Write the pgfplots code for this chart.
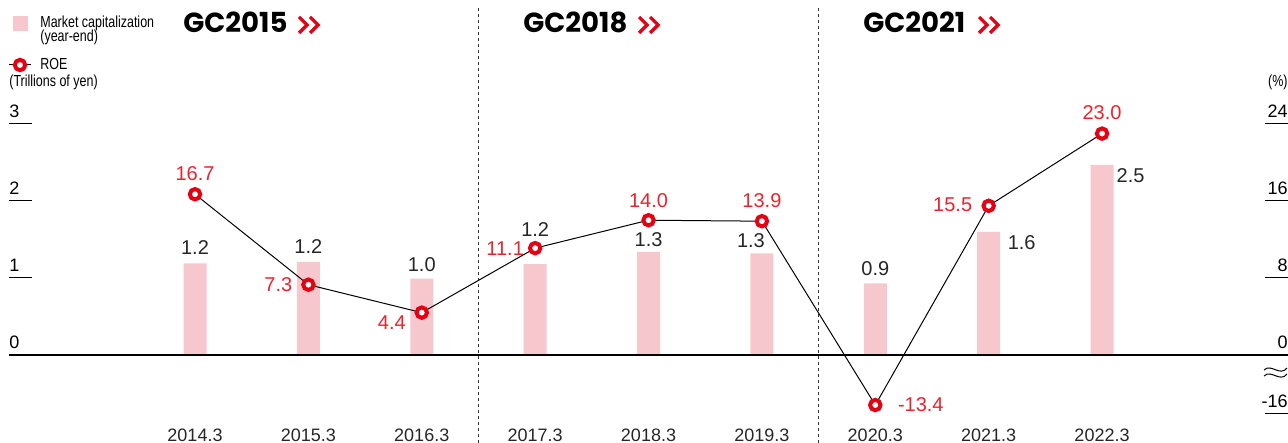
\documentclass[border=0pt]{standalone}
\usepackage{fontspec}
\setmainfont{Liberation Sans}
\newfontfamily\narrow{Liberation Sans}[FakeStretch=0.78]
\newfontfamily\gcfont{Poppins}
\usepackage{pgfplots}
\pgfplotsset{compat=1.18}
\usepackage{pgfplotstable}

\definecolor{capPink}{RGB}{246,199,204}
\definecolor{roeRed}{RGB}{230,0,18}
\definecolor{lblRed}{RGB}{232,36,48}

% x: fiscal year index, cap: market cap (trillions of yen), roe: ROE (%)
% roey: drawn position of ROE (the -13.4 point sits below a broken axis)
% cdx/cdy, rdx/rdy: label offsets in pt
\pgfplotstableread{
x cap  caplbl cdx   cdy  roe   roey  roelbl rdx   rdy
0 1.19 1.2    0     4.5  16.7  16.7  16.7   0     7
1 1.21 1.2    0     4    7.3   7.3   7.3    -15   -3.5
2 0.99 1.0    0     3.5  4.4   4.4   4.4    -15   -8.5
3 1.18 1.2    0     14   11.1  11.1  11.1   -15   -3.5
4 1.34 1.3    0     2.5  14.0  14.0  14.0   0     6.5
5 1.32 1.3    -5.5  3    13.9  13.9  13.9   0     7
6 0.93 0.9    0     4    -13.4 -5.2  -13.4  22.75 -3
7 1.60 1.6    16.5  -9   15.5  15.5  15.5   -18   -3
8 2.47 2.5    14.25 -9   23.0  23.0  23.0   0     7
}\data

\pgfplotsset{base/.style={
  scale only axis, width=644pt, height=221.5pt,
  xmin=-1.72, xmax=9.64,
  axis lines=none, clip=false,
}}

\begin{document}
\begin{tikzpicture}
\begin{axis}[base, name=main, ymin=-1.143, ymax=4.610]
\addplot[ybar, bar width=11.5pt, bar shift=0pt, fill=capPink, draw=none,
  nodes near coords, point meta=explicit symbolic,
  visualization depends on={\thisrow{cdx} \as \cdx},
  visualization depends on={\thisrow{cdy} \as \cdy},
  every node near coord/.append style={anchor=base, inner sep=0pt,
    xshift=\cdx pt, yshift=\cdy pt, font=\fontsize{10}{12}\selectfont, text=black!85},
] table[x=x, y=cap, meta=caplbl] {\data};
\end{axis}

% frame decorations in pixel units of the reference
\begin{scope}[shift={(main.north west)}, x=0.5pt, y=-0.5pt]
  \draw[line width=0.9pt] (9,355) -- (1288,355);
  \draw[line width=0.5pt, black!80, dash pattern=on 1.5pt off 1.5pt] (478,8) -- (478,443);
  \draw[line width=0.5pt, black!80, dash pattern=on 1.5pt off 1.5pt] (818,8) -- (818,443);
  % left axis
  \foreach \py/\lab in {124/3,201/2,278/1} {
    \draw[line width=0.5pt] (9,\py) -- (32,\py);
    \node[anchor=base west, inner sep=0pt, font=\fontsize{9}{11}\selectfont] at (9,\py-6) {\lab};
  }
  \node[anchor=base west, inner sep=0pt, font=\fontsize{9}{11}\selectfont] at (9,349) {0};
  % right axis
  \foreach \py/\lab in {124/24,201/16,278/8,414/-16} {
    \draw[line width=0.5pt] (1265,\py) -- (1288,\py);
    \node[anchor=base east, inner sep=0pt, font=\fontsize{9}{11}\selectfont] at (1288,\py-6) {\lab};
  }
  \node[anchor=base east, inner sep=0pt, font=\fontsize{9}{11}\selectfont] at (1288,349) {0};
  \draw[line width=0.5pt] (1264,370) .. controls (1271,363) and (1280,377) .. (1287,368);
  \draw[line width=0.5pt] (1264,376) .. controls (1271,369) and (1280,383) .. (1287,374);
  \node[anchor=base east, inner sep=0pt, font=\narrow\fontsize{8}{10}\selectfont] at (1288,87) {(\%)};
  % category labels
  \foreach \lab [count=\i from 0] in {2014.3,2015.3,2016.3,2017.3,2018.3,2019.3,2020.3,2021.3,2022.3}
    \node[anchor=base, inner sep=0pt, font=\fontsize{9}{11}\selectfont, text=black!85] at (195+113.375*\i,441) {\lab};
  % legend
  \fill[capPink] (13,16) rectangle (28,31);
  \node[anchor=base west, inner sep=0pt, font=\narrow\fontsize{8}{10}\selectfont] at (40,28) {Market capitalization};
  \node[anchor=base west, inner sep=0pt, font=\narrow\fontsize{8}{10}\selectfont] at (40,42) {(year-end)};
  \draw[line width=0.5pt] (9,65) -- (31,65);
  \draw[roeRed, fill=white, line width=2pt] (20,65) circle[radius=2.6pt];
  \node[anchor=base west, inner sep=0pt, font=\narrow\fontsize{8}{10}\selectfont] at (40,70) {ROE};
  \node[anchor=base west, inner sep=0pt, font=\narrow\fontsize{8}{10}\selectfont] at (9,87) {(Trillions of yen)};
  % period titles
  \foreach \px/\lab in {183/GC2015,523/GC2018,863/GC2021} {
    \node[anchor=base west, inner sep=0pt, font=\gcfont\bfseries\fontsize{13.8}{16}\selectfont] at (\px,33) {\lab};
    \draw[roeRed, line width=1.6pt, miter limit=4] (\px+116,17) -- (\px+124,25) -- (\px+116,33);
    \draw[roeRed, line width=1.6pt, miter limit=4] (\px+127,17) -- (\px+135,25) -- (\px+127,33);
  }
\end{scope}

\begin{axis}[base, ymin=-9.143, ymax=36.88]
\addplot[black, line width=0.5pt, mark=*, mark size=2.6pt,
  mark options={draw=roeRed, fill=white, line width=2pt},
  nodes near coords, point meta=explicit symbolic,
  visualization depends on={\thisrow{rdx} \as \rdx},
  visualization depends on={\thisrow{rdy} \as \rdy},
  every node near coord/.append style={anchor=base, inner sep=0pt,
    xshift=\rdx pt, yshift=\rdy pt, font=\fontsize{10}{12}\selectfont, text=lblRed},
] table[x=x, y=roey, meta=roelbl] {\data};
\end{axis}

\pgfresetboundingbox
\begin{scope}[shift={(main.north west)}, x=0.5pt, y=-0.5pt]
  \path (0,0) rectangle (1288,443);
\end{scope}
\end{tikzpicture}
\end{document}
